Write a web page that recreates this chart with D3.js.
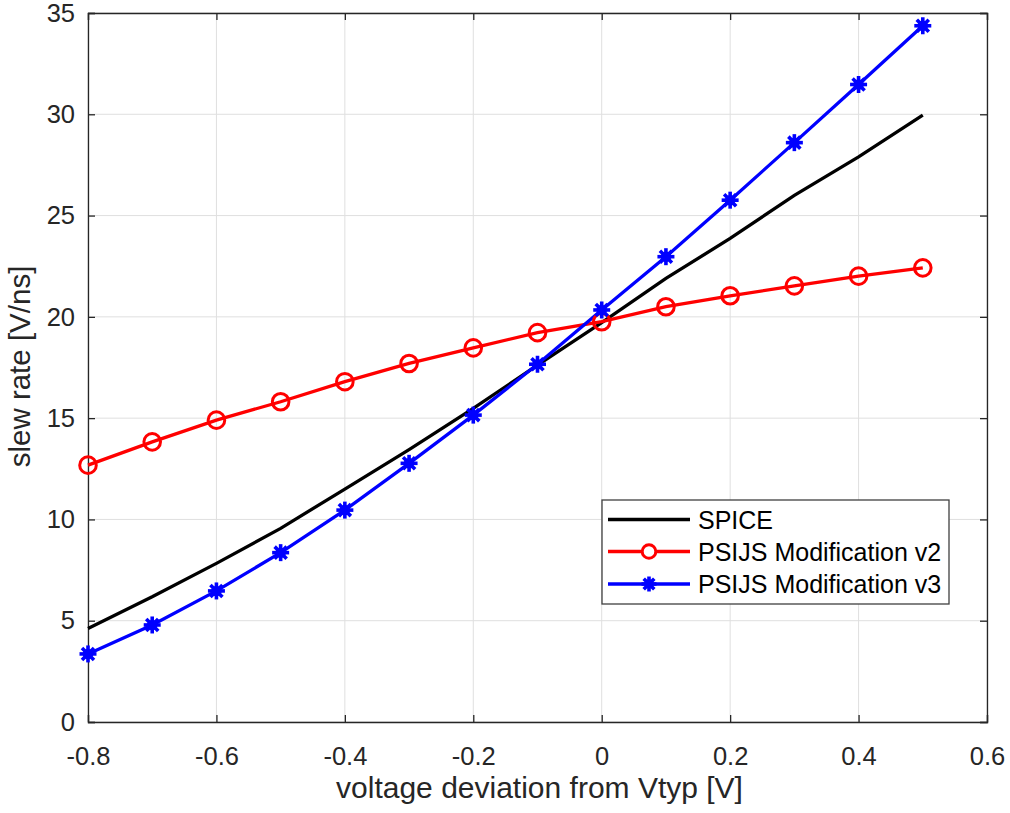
<!DOCTYPE html>
<html><head><meta charset="utf-8">
<script src="https://cdn.jsdelivr.net/npm/d3@7"></script>
<style>body{margin:0;background:#fff}svg{display:block;font-family:"Liberation Sans",Arial,sans-serif}</style>
</head><body><svg id="c" width="1010" height="813"></svg>
<script>
const xVals = [-0.8,-0.7,-0.6,-0.5,-0.4,-0.3,-0.2,-0.1,0,0.1,0.2,0.3,0.4,0.5];
const spice = [4.62,6.18,7.83,9.56,11.5,13.45,15.48,17.62,19.72,21.9,23.87,26.0,27.9,29.96];
const psijsV2 = [12.68,13.83,14.9,15.81,16.8,17.7,18.47,19.22,19.76,20.5,21.04,21.53,22.01,22.42];
const psijsV3 = [3.36,4.79,6.47,8.36,10.46,12.77,15.15,17.66,20.34,22.97,25.76,28.6,31.47,34.37];
const xTicks = [-0.8,-0.6,-0.4,-0.2,0,0.2,0.4,0.6];
const yTicks = [0,5,10,15,20,25,30,35];
const seriesNames = ["SPICE","PSIJS Modification v2","PSIJS Modification v3"];

const svg = d3.select("#c");
const L=88, R=987, T=13, B=722;
const x = d3.scaleLinear().domain([-0.8,0.6]).range([L,R]);
const y = d3.scaleLinear().domain([0,35]).range([B,T]);
const axisCol="#262626";
const FONT="'Liberation Sans',Arial,sans-serif";

// grid
const g = svg.append("g");
g.selectAll(".gx").data(xTicks).join("line").attr("x1",d=>x(d)).attr("x2",d=>x(d)).attr("y1",T).attr("y2",B).attr("stroke","#dfdfdf").attr("stroke-width",1);
g.selectAll(".gy").data(yTicks).join("line").attr("y1",d=>y(d)).attr("y2",d=>y(d)).attr("x1",L).attr("x2",R).attr("stroke","#dfdfdf").attr("stroke-width",1);

// axes (ticks inside)
const fmtX = d=> d===0 ? "0" : (d<0?"-":"") + Math.abs(d).toFixed(1);
const ax = svg.append("g").attr("transform",`translate(0,${B})`).call(d3.axisBottom(x).tickValues(xTicks).tickSize(-7).tickPadding(25).tickFormat(fmtX));
const axT = svg.append("g").attr("transform",`translate(0,${T})`).call(d3.axisTop(x).tickValues(xTicks).tickSize(-7).tickFormat(""));
const ay = svg.append("g").attr("transform",`translate(${L},0)`).call(d3.axisLeft(y).tickValues(yTicks).tickSize(-7).tickPadding(13).tickFormat(d3.format("d")));
const ayR = svg.append("g").attr("transform",`translate(${R},0)`).call(d3.axisRight(y).tickValues(yTicks).tickSize(-7).tickFormat(""));
[ax,axT,ay,ayR].forEach(a=>{
  a.attr("font-size",null).attr("font-family",null);
  a.selectAll("path").attr("stroke",axisCol).attr("stroke-width",1.3);
  a.selectAll("line").attr("stroke",axisCol).attr("stroke-width",1.3);
  a.selectAll("text").attr("fill",axisCol).style("font-size","25.5px").style("font-family",FONT);
});

// axis titles
svg.append("text").attr("x",(L+R)/2+2).attr("y",798).attr("text-anchor","middle").attr("fill",axisCol).style("font-size","30px").text("voltage deviation from Vtyp [V]");
svg.append("text").attr("transform",`translate(30,${(T+B)/2-1}) rotate(-90)`).attr("text-anchor","middle").attr("fill",axisCol).style("font-size","29.5px").text("slew rate [V/ns]");

const line = d3.line().x((d,i)=>x(xVals[i])).y(d=>y(d));
const plot = svg.append("g");
plot.append("path").datum(spice).attr("d",line).attr("fill","none").attr("stroke","#000").attr("stroke-width",3.3);
plot.append("path").datum(psijsV2).attr("d",line).attr("fill","none").attr("stroke","#ff0000").attr("stroke-width",3.3);
plot.append("path").datum(psijsV3).attr("d",line).attr("fill","none").attr("stroke","#0000ff").attr("stroke-width",3.3);

function star(sel,cx,cy,r){
  const gg = sel.append("g").attr("transform",`translate(${cx},${cy})`);
  for(let k=0;k<4;k++){
    const a = k*Math.PI/4;
    gg.append("line").attr("x1",-r*Math.cos(a)).attr("y1",-r*Math.sin(a)).attr("x2",r*Math.cos(a)).attr("y2",r*Math.sin(a)).attr("stroke","#0000ff").attr("stroke-width",3.6);
  }
  gg.append("circle").attr("r",r*0.62).attr("fill","#0000ff");
}
plot.selectAll(".m2").data(psijsV2).join("circle").attr("cx",(d,i)=>x(xVals[i])).attr("cy",d=>y(d)).attr("r",8.3).attr("fill","none").attr("stroke","#ff0000").attr("stroke-width",3);
psijsV3.forEach((d,i)=>star(plot,x(xVals[i]),y(d),8.5));

// legend
const lg = svg.append("g");
lg.append("rect").attr("x",602).attr("y",500).attr("width",347).attr("height",104).attr("fill","#fff").attr("stroke","#404040").attr("stroke-width",1.3);
const ly=[519.5,551.5,584], cols=["#000","#ff0000","#0000ff"];
seriesNames.forEach((n,i)=>{
  lg.append("line").attr("x1",608).attr("x2",690).attr("y1",ly[i]).attr("y2",ly[i]).attr("stroke",cols[i]).attr("stroke-width",3.3);
  if(i===1) lg.append("circle").attr("cx",649).attr("cy",ly[i]).attr("r",6.8).attr("fill","#fff").attr("stroke","#ff0000").attr("stroke-width",3);
  if(i===2) star(lg,649,ly[i],7.5);
  lg.append("text").attr("x",698).attr("y",ly[i]).attr("dy","0.36em").attr("fill","#000").style("font-size","25px").text(n);
});
</script></body></html>
